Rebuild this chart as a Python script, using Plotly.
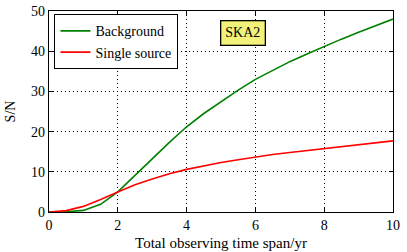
import plotly.graph_objects as go

years = [0, 0.5, 1.0, 1.5, 2.0, 2.5, 3.0, 3.5, 4.0, 4.5, 5.0, 5.5, 6.0, 6.5, 7.0,
         7.5, 8.0, 8.5, 9.0, 9.5, 10.0]
background_sn = [0, 0.05, 0.4, 1.9, 5.0, 9.0, 13.2, 17.3, 21.2, 24.5, 27.5, 30.3,
                 33.0, 35.3, 37.4, 39.3, 41.2, 43.0, 44.7, 46.4, 48.0]
single_sn = [0, 0.35, 1.4, 3.1, 5.0, 6.8, 8.2, 9.5, 10.6, 11.5, 12.3, 13.0, 13.7,
             14.3, 14.8, 15.3, 15.8, 16.3, 16.8, 17.2, 17.7]
x_ticks = [0, 2, 4, 6, 8, 10]
y_ticks = [0, 10, 20, 30, 40, 50]

FONT = "Times New Roman, Times, Liberation Serif, DejaVu Serif, serif"

fig = go.Figure()
fig.add_trace(go.Scatter(x=years, y=background_sn, mode="lines", name="Background",
                         line=dict(color="#008000", width=1.6)))
fig.add_trace(go.Scatter(x=years, y=single_sn, mode="lines", name="Single source",
                         line=dict(color="#ff0000", width=1.6)))

axis_common = dict(
    showline=True, linecolor="black", linewidth=1.3, mirror="ticks",
    ticks="inside", ticklen=4, tickwidth=1, tickcolor="black",
    showgrid=True, gridcolor="black", gridwidth=1, griddash="1px,3px",
    zeroline=False, automargin=False,
    tickfont=dict(family=FONT, size=14, color="black"),
)

fig.update_xaxes(range=[0, 10], tickvals=x_ticks, **axis_common,
                 title=dict(text="Total observing time span/yr",
                            font=dict(family=FONT, size=15, color="black"), standoff=5))
fig.update_yaxes(range=[0, 50], tickvals=y_ticks, **axis_common,
                 title=dict(text="S/N", font=dict(family=FONT, size=14, color="black"),
                            standoff=12))

fig.add_annotation(x=5.65, y=44.6, xref="x", yref="y", text="SKA2", showarrow=False,
                   font=dict(family=FONT, size=14, color="black"),
                   bgcolor="#f2f27a", bordercolor="black", borderwidth=1.3, borderpad=4)

fig.update_layout(
    width=407, height=252,
    margin=dict(l=49, r=14, t=11, b=40),
    plot_bgcolor="white", paper_bgcolor="white",
    font=dict(family=FONT, size=14, color="black"),
    legend=dict(x=0.015, y=0.985, xanchor="left", yanchor="top",
                bgcolor="white", bordercolor="black", borderwidth=1.3,
                font=dict(family=FONT, size=14, color="black"),
                tracegroupgap=0),
    showlegend=True,
)

fig.write_html("out.html", config={"displayModeBar": False},
               post_script="document.body.style.margin='0px';")
